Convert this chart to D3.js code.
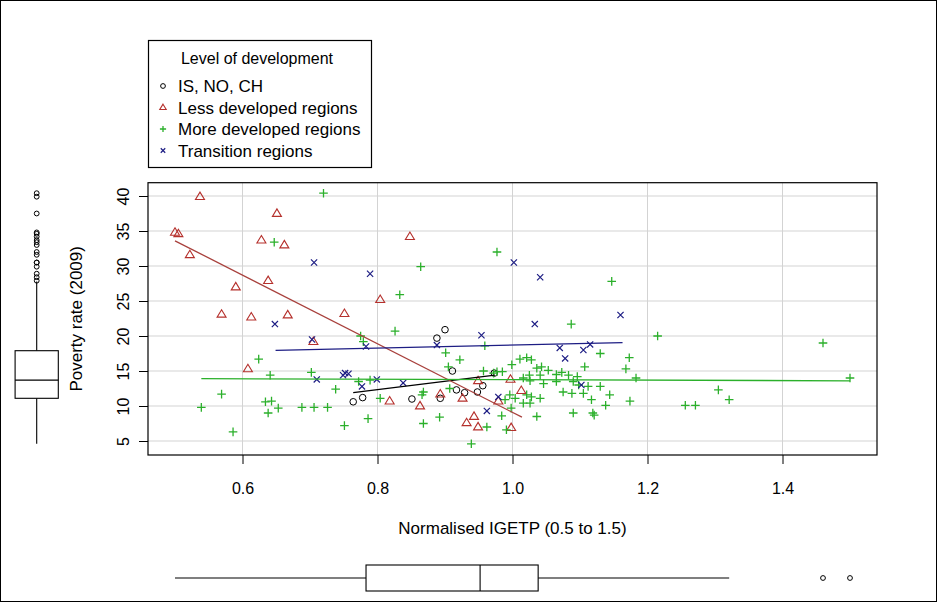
<!DOCTYPE html>
<html>
<head>
<meta charset="utf-8">
<script src="https://cdn.jsdelivr.net/npm/d3@7"></script>
<style>
  body { margin: 0; background: #fff; }
  svg { display: block; }
  text { font-family: "Liberation Sans", Arial, sans-serif; fill: #000; }
</style>
</head>
<body>
<svg id="chart" width="938" height="603"></svg>
<script>
// ---- data -------------------------------------------------------------
const groupNames  = ["IS, NO, CH", "Less developed regions", "More developed regions", "Transition regions"];
const groupColors = ["#000000", "#b5302c", "#2bb02b", "#1d1d84"];
const groupShapes = ["circle", "triangle", "plus", "cross"];

// Normalised IGETP (x) and poverty rate 2009 (y) for each group of regions
const isnochIgetp   = [0.900, 0.888, 0.911, 0.973, 0.764, 0.778, 0.851, 0.893, 0.917, 0.929, 0.948, 0.956];
const isnochPoverty = [20.9, 19.7, 15.0, 14.7, 10.6, 11.2, 11.0, 11.1, 12.3, 11.9, 12.0, 12.9];

const lessIgetp   = [0.500, 0.505, 0.537, 0.522, 0.651, 0.628, 0.662, 0.638, 0.590, 0.569, 0.613, 0.667, 0.751, 0.848, 0.804,
                     0.705, 0.608, 0.893, 0.926, 0.949, 0.997, 1.013, 0.979, 0.818, 0.863, 0.932, 0.943, 0.949, 0.998];
const lessPoverty = [34.8, 34.6, 39.9, 31.6, 37.5, 33.7, 33.0, 27.9, 27.0, 23.1, 22.7, 23.0, 23.2, 34.2, 25.2,
                     19.2, 15.3, 11.7, 11.1, 13.6, 13.8, 12.2, 10.7, 10.7, 10.0, 7.6, 8.5, 7.0, 6.9];

const moreIgetp   = [0.539, 0.586, 0.569, 0.624, 0.634, 0.643, 0.638, 0.653, 0.641, 0.647, 0.688, 0.706, 0.726, 0.702, 0.720,
                     0.738, 0.751, 0.772, 0.789, 0.775, 0.779, 0.786, 0.804, 0.826, 0.833, 0.864, 0.868, 0.866, 0.868, 0.892,
                     0.901, 0.905, 0.907, 0.922, 0.939, 0.957, 0.959, 0.962, 0.972, 0.977, 0.985, 0.977, 0.984, 0.991, 0.989,
                     0.996, 0.998, 0.999, 1.004, 1.011, 1.021, 1.028, 1.016, 1.026, 1.025, 1.036, 1.043, 1.053, 1.041, 1.046,
                     1.065, 1.065, 1.073, 1.083, 1.096, 1.021, 1.028, 1.041, 1.026, 1.016, 1.036, 1.090, 1.075, 1.088, 1.087,
                     1.147, 1.215, 1.130, 1.173, 1.107, 1.168, 1.183, 1.090, 1.098, 1.112, 1.130, 1.105, 1.144, 1.117, 1.138,
                     1.174, 1.119, 1.121, 1.256, 1.271, 1.305, 1.321, 1.460, 1.500];
const morePoverty = [9.8, 6.3, 11.7, 16.7, 10.6, 10.7, 9.0, 9.7, 14.4, 33.4, 9.8, 9.8, 9.8, 14.8, 40.4,
                     12.4, 7.2, 13.5, 13.7, 20.0, 19.2, 8.2, 11.1, 20.7, 25.9, 29.9, 12.0, 11.6, 7.5, 8.4,
                     17.6, 15.6, 12.5, 16.6, 4.6, 15.0, 18.6, 7.0, 14.7, 14.9, 14.9, 32.0, 8.6, 6.6, 10.9,
                     11.6, 9.7, 15.9, 11.1, 16.7, 16.9, 16.6, 14.0, 13.6, 14.4, 15.4, 15.6, 15.1, 14.4, 13.2,
                     13.5, 14.5, 14.8, 14.4, 14.2, 11.6, 11.3, 11.1, 10.4, 10.4, 8.5, 9.0, 12.0, 11.8, 21.7,
                     27.8, 20.0, 17.5, 16.9, 15.6, 15.3, 14.0, 13.5, 13.0, 12.8, 12.8, 11.8, 11.6, 10.9, 10.1,
                     10.7, 9.0, 8.7, 10.1, 10.1, 12.3, 10.9, 19.0, 14.0];

const transIgetp   = [0.648, 0.706, 0.703, 0.710, 0.749, 0.752, 0.757, 0.777, 0.783, 0.789, 0.799, 0.838, 0.888,
                      0.954, 0.962, 0.979, 1.002, 1.041, 1.033, 1.070, 1.078, 1.105, 1.115, 1.102, 1.160];
const transPoverty = [21.7, 30.5, 19.5, 13.8, 14.4, 14.7, 14.6, 12.8, 18.5, 28.9, 13.8, 13.3, 18.7,
                      20.1, 9.3, 11.3, 30.5, 28.4, 21.7, 18.3, 16.8, 18.0, 18.8, 13.0, 23.0];

// Fitted regression segments per group: [x start, y start, x end, y end]
const isnochFit = [0.764, 11.9, 0.974, 14.4];
const lessFit   = [0.500, 33.6, 1.014, 8.4];
const moreFit   = [0.539, 13.9, 1.500, 13.6];
const transFit  = [0.649, 17.95, 1.163, 19.05];

// Marginal boxplot statistics: [lower whisker, Q1, median, Q3, upper whisker]
const povertyBox = [4.6, 11.1, 13.7, 17.9, 27.8];
const igetpBox   = [0.500, 0.783, 0.952, 1.038, 1.321];

const xTicks = [0.6, 0.8, 1.0, 1.2, 1.4];
const yTicks = [5, 10, 15, 20, 25, 30, 35, 40];
const xDomain = [0.46, 1.54];
const yDomain = [3.0, 41.9];

const xTitle = "Normalised IGETP (0.5 to 1.5)";
const yTitle = "Poverty rate (2009)";
const legendTitle = "Level of development";

// ---- assemble -----------------------------------------------------------
const groups = [
  { xs: isnochIgetp, ys: isnochPoverty, fit: isnochFit },
  { xs: lessIgetp,   ys: lessPoverty,   fit: lessFit },
  { xs: moreIgetp,   ys: morePoverty,   fit: moreFit },
  { xs: transIgetp,  ys: transPoverty,  fit: transFit }
].map((g, i) => ({
  name: groupNames[i], color: groupColors[i], shape: groupShapes[i], fit: g.fit,
  points: g.xs.map((v, j) => ({ x: v, y: g.ys[j] }))
}));

const allX = groups.flatMap(g => g.points.map(p => p.x));
const allY = groups.flatMap(g => g.points.map(p => p.y));

// ---- layout -------------------------------------------------------------
const W = 938, H = 603;
const plot = { left: 148, right: 877, top: 182.7, bottom: 455 };

const svg = d3.select("#chart");
const x = d3.scaleLinear().domain(xDomain).range([plot.left, plot.right]);
const y = d3.scaleLinear().domain(yDomain).range([plot.bottom, plot.top]);

// outer frame
svg.append("rect").attr("x", 0.5).attr("y", 0.5).attr("width", W - 2).attr("height", H - 2)
  .attr("fill", "none").attr("stroke", "#000").attr("stroke-width", 1);

// grid
const grid = svg.append("g").attr("stroke", "#d3d3d3").attr("stroke-width", 1);
grid.selectAll("line.v").data(xTicks).join("line").attr("class", "v")
  .attr("x1", d => x(d)).attr("x2", d => x(d)).attr("y1", plot.top).attr("y2", plot.bottom);
grid.selectAll("line.h").data(yTicks).join("line").attr("class", "h")
  .attr("x1", plot.left).attr("x2", plot.right).attr("y1", d => y(d)).attr("y2", d => y(d));

// symbol drawing (outline markers)
function marker(sel, shape, color, s) {
  if (shape === "circle") {
    sel.append("circle").attr("r", 3.3 * s).attr("fill", "none").attr("stroke", color).attr("stroke-width", 1);
  } else if (shape === "triangle") {
    const h = 4.6 * s, w = 4.5 * s;
    sel.append("path").attr("d", `M0,${-h} L${w},${h * 0.62} L${-w},${h * 0.62} Z`)
      .attr("fill", "none").attr("stroke", color).attr("stroke-width", 1.1);
  } else if (shape === "plus") {
    const r = 4.3 * s;
    sel.append("path").attr("d", `M${-r},0 H${r} M0,${-r} V${r}`)
      .attr("fill", "none").attr("stroke", color).attr("stroke-width", 1.3);
  } else {
    const r = 3.1 * s;
    sel.append("path").attr("d", `M${-r},${-r} L${r},${r} M${-r},${r} L${r},${-r}`)
      .attr("fill", "none").attr("stroke", color).attr("stroke-width", 1.2);
  }
}

// points
groups.forEach(g => {
  const layer = svg.append("g");
  layer.selectAll("g").data(g.points).join("g")
    .attr("transform", d => `translate(${x(d.x)},${y(d.y)})`)
    .each(function () { marker(d3.select(this), g.shape, g.color, 1); });
});

// regression segments
const fitColors = ["#000000", "#a8403c", "#2bb02b", "#1d1d84"];
groups.forEach((g, i) => {
  svg.append("line")
    .attr("x1", x(g.fit[0])).attr("y1", y(g.fit[1]))
    .attr("x2", x(g.fit[2])).attr("y2", y(g.fit[3]))
    .attr("stroke", fitColors[i]).attr("stroke-width", 1.3);
});

// plot frame
svg.append("rect").attr("x", plot.left).attr("y", plot.top)
  .attr("width", plot.right - plot.left).attr("height", plot.bottom - plot.top)
  .attr("fill", "none").attr("stroke", "#000").attr("stroke-width", 1.2);

// x axis
const xAxis = svg.append("g").attr("transform", `translate(0,${plot.bottom})`)
  .call(d3.axisBottom(x).tickValues(xTicks).tickSize(9).tickFormat(d3.format(".1f")));
xAxis.select(".domain").remove();
xAxis.selectAll("line").attr("stroke", "#000");
xAxis.selectAll("text").attr("y", 39).attr("dy", null)
  .style("font-size", "16px").style("font-family", "'Liberation Sans', Arial, sans-serif").attr("fill", "#000");

// y axis (labels rotated, R style)
const yAxis = svg.append("g").attr("transform", `translate(${plot.left},0)`)
  .call(d3.axisLeft(y).tickValues(yTicks).tickSize(9));
yAxis.select(".domain").remove();
yAxis.selectAll("line").attr("stroke", "#000");
yAxis.selectAll("text")
  .attr("x", 0).attr("y", -19).attr("dy", null)
  .attr("transform", "rotate(-90)").attr("text-anchor", "middle")
  .style("font-size", "16px").style("font-family", "'Liberation Sans', Arial, sans-serif").attr("fill", "#000");

// axis titles
svg.append("text").attr("x", (plot.left + plot.right) / 2).attr("y", 534)
  .attr("text-anchor", "middle").style("font-size", "17px").text(xTitle);
svg.append("text").attr("transform", `translate(82,${(plot.top + plot.bottom) / 2}) rotate(-90)`)
  .attr("text-anchor", "middle").style("font-size", "17px").text(yTitle);

// marginal boxplot: poverty rate (left)
const lb = { cx: 36.7, half: 21.6 };
const lbox = svg.append("g").attr("stroke", "#000").attr("fill", "none").attr("stroke-width", 1.1);
lbox.append("line").attr("x1", lb.cx).attr("x2", lb.cx).attr("y1", y(povertyBox[0])).attr("y2", y(povertyBox[1]));
lbox.append("line").attr("x1", lb.cx).attr("x2", lb.cx).attr("y1", y(povertyBox[3])).attr("y2", y(povertyBox[4]));
lbox.append("rect").attr("x", lb.cx - lb.half).attr("width", lb.half * 2)
  .attr("y", y(povertyBox[3])).attr("height", y(povertyBox[1]) - y(povertyBox[3])).attr("fill", "#fff");
lbox.append("line").attr("x1", lb.cx - lb.half).attr("x2", lb.cx + lb.half)
  .attr("y1", y(povertyBox[2])).attr("y2", y(povertyBox[2]));
lbox.selectAll("circle").data(allY.filter(v => v > povertyBox[4] || v < povertyBox[0])).join("circle")
  .attr("cx", lb.cx).attr("cy", d => y(d)).attr("r", 2.4).attr("stroke-width", 1);

// marginal boxplot: IGETP (bottom)
const bb = { cy: 578, half: 13 };
const bbox = svg.append("g").attr("stroke", "#000").attr("fill", "none").attr("stroke-width", 1.1);
bbox.append("line").attr("y1", bb.cy).attr("y2", bb.cy).attr("x1", x(igetpBox[0])).attr("x2", x(igetpBox[1]));
bbox.append("line").attr("y1", bb.cy).attr("y2", bb.cy).attr("x1", x(igetpBox[3])).attr("x2", x(igetpBox[4]));
bbox.append("rect").attr("y", bb.cy - bb.half).attr("height", bb.half * 2)
  .attr("x", x(igetpBox[1])).attr("width", x(igetpBox[3]) - x(igetpBox[1])).attr("fill", "#fff");
bbox.append("line").attr("y1", bb.cy - bb.half).attr("y2", bb.cy + bb.half)
  .attr("x1", x(igetpBox[2])).attr("x2", x(igetpBox[2]));
bbox.selectAll("circle").data(allX.filter(v => v > igetpBox[4] || v < igetpBox[0])).join("circle")
  .attr("cy", bb.cy).attr("cx", d => x(d)).attr("r", 2.4).attr("stroke-width", 1);

// legend
const lg = svg.append("g");
lg.append("rect").attr("x", 148.5).attr("y", 40.5).attr("width", 223).attr("height", 127)
  .attr("fill", "#fff").attr("stroke", "#000").attr("stroke-width", 1.2);
lg.append("text").attr("x", 257).attr("y", 64).attr("text-anchor", "middle")
  .style("font-size", "16px").text(legendTitle);
const itemY = [86, 107.5, 129, 150.5];
groups.forEach((g, i) => {
  const it = lg.append("g").attr("transform", `translate(163,${itemY[i]})`);
  marker(it, g.shape, g.color, 0.72);
  it.append("text").attr("x", 15).attr("y", 6).style("font-size", "17px").text(g.name);
});
</script>
</body>
</html>
